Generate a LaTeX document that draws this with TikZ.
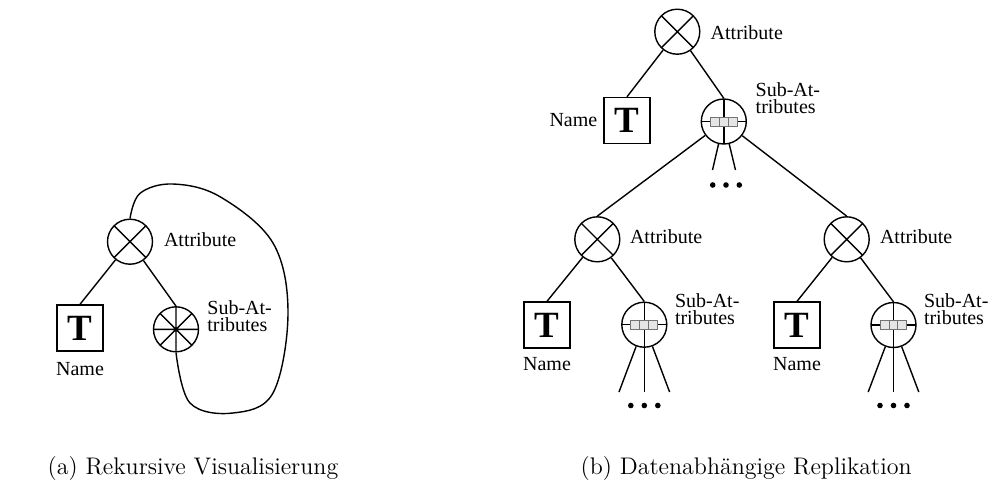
\documentclass[tikz,border=0pt]{standalone}
\usepackage{fontspec}
\newfontfamily\labelfont{Liberation Serif}
\begin{document}
\begin{tikzpicture}[x=0.5pt,y=-0.5pt,line width=0.7pt,
  attr/.style={circle,draw,minimum size=22.5pt,inner sep=0pt,
    path picture={
      \draw (path picture bounding box.north west) -- (path picture bounding box.south east)
            (path picture bounding box.north east) -- (path picture bounding box.south west);}},
  subloop/.style={circle,draw,minimum size=22.5pt,inner sep=0pt,
    path picture={
      \draw (path picture bounding box.north west) -- (path picture bounding box.south east)
            (path picture bounding box.north east) -- (path picture bounding box.south west)
            (path picture bounding box.north) -- (path picture bounding box.south)
            (path picture bounding box.west) -- (path picture bounding box.east);}},
  subrep/.style={circle,draw,minimum size=22.5pt,inner sep=0pt,
    path picture={
      \draw (path picture bounding box.north) -- (path picture bounding box.south)
            (path picture bounding box.west) -- (path picture bounding box.east);
      \foreach \k in {-1,0,1}
        \draw[line width=0.5pt,draw=black!55,fill=black!10]
          ([shift={(\k*8.9-4.45,-4.5)}]path picture bounding box.center)
          rectangle ++(8.9,9);}},
  tbox/.style={draw,minimum size=23pt,inner sep=0pt,
    font=\labelfont\fontsize{18.5}{18.5}\selectfont\bfseries},
  lbl/.style={inner sep=0pt,font=\labelfont\fontsize{10}{8.5}\selectfont,align=left},
  dot/.style={circle,fill,inner sep=0pt,minimum size=2.8pt},
  captext/.style={inner sep=0pt,anchor=base west,font=\fontsize{12}{14}\selectfont}]
\useasboundingbox (0,0) rectangle (993,484);

% ---------- (a) recursive view ----------
\node[attr]    (A) at (130,241.7) {};
\node[tbox]    (N) at (80,328) {T};
\node[subloop] (S) at (176,329.3) {};
\node[lbl,anchor=base west] (lA) at (163.3,246.7) {Attribute};
\node[lbl,anchor=base] (lN) at (80,375) {Name};
\node[lbl,anchor=base west] (lS) at (206.7,331.7) {Sub-At-\\tributes};
\draw (A) -- (N.north);
\draw (A) -- (S.north);
\draw plot[smooth,tension=0.6] coordinates {(A.north) (140,193.3) (173,184) (220,196.7)
  (273,243) (288,313) (273,393) (233,413) (190,403) (S.south)};

% ---------- (b) data dependent replication ----------
\node[attr]   (A0) at (677.3,31.7) {};
\node[tbox]   (N0) at (627,120.5) {T};
\node[subrep] (S0) at (723.8,121.5) {};
\node[lbl,anchor=base west] (lA0) at (710,39.3) {Attribute};
\node[lbl,anchor=base east] (lN0) at (598,126) {Name};
\node[lbl,anchor=base west] (lS0) at (755,113.3) {Sub-At-\\tributes};
\draw (A0) -- (N0.north);
\draw (A0) -- (S0.north);

\node[attr]   (A1) at (597.3,239.3) {};
\node[tbox]   (N1) at (547,325) {T};
\node[subrep] (S1) at (644.3,324.7) {};
\node[lbl,anchor=base west] (lA1) at (629.3,243.3) {Attribute};
\node[lbl,anchor=base] (lN1) at (547,370) {Name};
\node[lbl,anchor=base west] (lS1) at (674.3,324) {Sub-At-\\tributes};
\draw (A1) -- (N1.north);
\draw (A1) -- (S1.north);

\node[attr]   (A2) at (846.7,239.3) {};
\node[tbox]   (N2) at (797,325) {T};
\node[subrep] (S2) at (893.5,325) {};
\node[lbl,anchor=base west] (lA2) at (879.3,243.3) {Attribute};
\node[lbl,anchor=base] (lN2) at (797,370) {Name};
\node[lbl,anchor=base west] (lS2) at (923.3,324) {Sub-At-\\tributes};
\draw (A2) -- (N2.north);
\draw (A2) -- (S2.north);

\draw (S0) -- (A1.north);
\draw (S0) -- (A2.north);

% open ends below the replicated sub-attributes
\coordinate (e01) at (712.5,170);
\coordinate (e02) at (735.5,170);
\draw (S0) -- (e01);
\draw (S0) -- (e02);
\node[dot] (d01) at (712.7,185) {};
\node[dot] (d02) at (726,185) {};
\node[dot] (d03) at (739.3,185) {};

\coordinate (e11) at (619,392);
\coordinate (e12) at (644.3,392);
\coordinate (e13) at (669.6,392);
\draw (S1) -- (e11);
\draw (S1) -- (e12);
\draw (S1) -- (e13);
\node[dot] (d11) at (630.8,405.5) {};
\node[dot] (d12) at (644.3,405.5) {};
\node[dot] (d13) at (657.8,405.5) {};

\coordinate (e21) at (868.2,392);
\coordinate (e22) at (893.5,392);
\coordinate (e23) at (918.8,392);
\draw (S2) -- (e21);
\draw (S2) -- (e22);
\draw (S2) -- (e23);
\node[dot] (d21) at (880,405.5) {};
\node[dot] (d22) at (893.5,405.5) {};
\node[dot] (d23) at (907,405.5) {};

% ---------- captions ----------
\node[captext] (ca) at (47,474) {(a) Rekursive Visualisierung};
\node[captext] (cb) at (580,474) {(b) Datenabhängige Replikation};
\end{tikzpicture}
\end{document}
